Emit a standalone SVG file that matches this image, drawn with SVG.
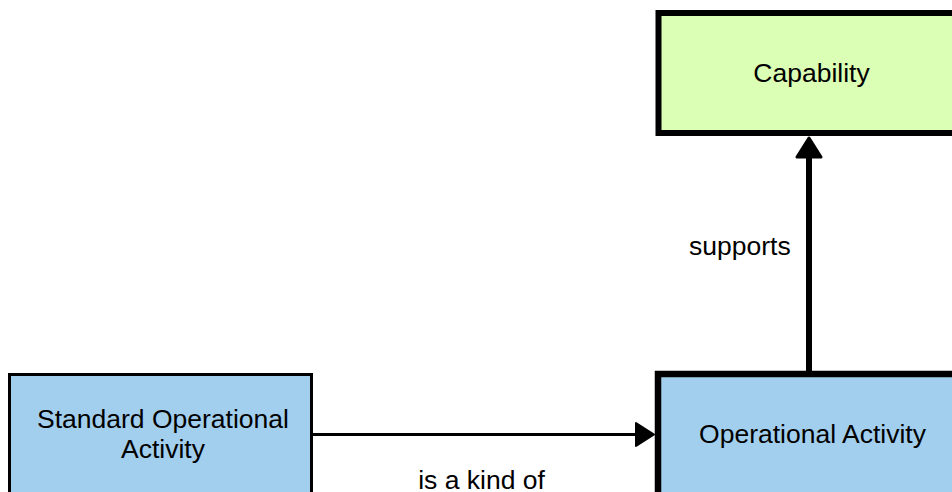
<svg xmlns="http://www.w3.org/2000/svg" width="952" height="492" viewBox="0 0 952 492">
  <style>
    .label { font-family: "Liberation Sans", Arial, sans-serif; font-size: 26.5px; fill: #000; }
    .mid { text-anchor: middle; }
    .activity { fill: #a3cfee; stroke: #000; }
    .capability { fill: #dbffb4; stroke: #000; }
    .edge { stroke: #000; fill: none; }
    .head { fill: #000; stroke: #000; stroke-linejoin: round; }
  </style>
  <rect width="952" height="492" fill="#fff"/>

  <g id="node-capability">
    <rect class="capability" x="658.5" y="13" width="310" height="120" stroke-width="6"/>
    <text class="label mid" x="811.5" y="82">Capability</text>
  </g>

  <g id="node-standard-operational-activity">
    <rect class="activity" x="9.5" y="374.5" width="302" height="140" stroke-width="3"/>
    <text class="label mid" x="163" y="428">Standard Operational</text>
    <text class="label mid" x="163" y="458">Activity</text>
  </g>

  <g id="node-operational-activity">
    <rect class="activity" x="658" y="374" width="310" height="140" stroke-width="6.5"/>
    <text class="label mid" x="812.5" y="443">Operational Activity</text>
  </g>

  <g id="connectors">
    <g id="edge-supports">
      <line class="edge" x1="809" y1="371" x2="809" y2="150" stroke-width="6"/>
      <polygon class="head" points="809,138 797,157 821,157" stroke-width="3"/>
      <text class="label" x="689" y="255">supports</text>
    </g>
    <g id="edge-is-a-kind-of">
      <line class="edge" x1="312" y1="434.5" x2="640" y2="434.5" stroke-width="3"/>
      <polygon class="head" points="654,434.5 636,423 636,446" stroke-width="2"/>
      <text class="label mid" x="481.5" y="489">is a kind of</text>
    </g>
  </g>
</svg>
